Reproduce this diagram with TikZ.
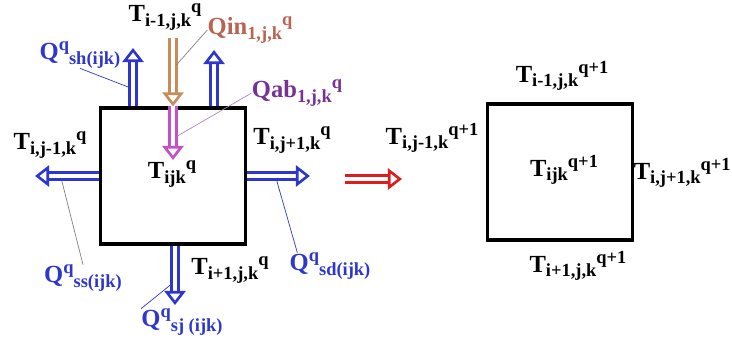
\documentclass[tikz,border=0pt]{standalone}
\usepackage{fontspec}
\setmainfont{Liberation Serif}
\usetikzlibrary{arrows.meta, positioning, calc}
\definecolor{fluxblue}{RGB}{45,55,205}
\definecolor{qinbrown}{RGB}{185,100,80}
\definecolor{qinorange}{RGB}{200,140,90}
\definecolor{qabpurple}{RGB}{120,50,150}
\definecolor{qabmagenta}{RGB}{195,80,200}
\definecolor{stepred}{RGB}{220,30,30}
\newcommand{\lowtx}[1]{\raisebox{-2.5pt}{\fontsize{10.5}{12}\selectfont #1}}
\newcommand{\hightx}[1]{\raisebox{5pt}{\fontsize{10.5}{12}\selectfont #1}}
\newcommand{\Tl}[2]{T\lowtx{#1}\hightx{#2}}
\newcommand{\Ql}[1]{Q\hightx{q}\lowtx{#1}}

\begin{document}
\begin{tikzpicture}[
    x=0.02cm, y=-0.02cm,
    cell/.style={draw, line width=1.8pt, minimum width=2.9cm, minimum height=2.72cm, inner sep=0pt},
    lbl/.style={font=\fontsize{14}{16}\selectfont\bfseries, inner sep=0pt},
    qlbl/.style={lbl, text=fluxblue},
    flux/.style={line width=1.5pt, double=white, double distance=2.8pt, -{Triangle[open, length=8pt, width=12pt]}},
    lead/.style={line width=0.4pt, shorten >=3pt},
  ]
  \useasboundingbox (0,0) rectangle (732,338);
  % cells
  \node[cell] (old) at (173,176) {};
  \node[cell] (new) at (560,172) {};
  \node[lbl] (tijk) at (172,174) {\Tl{ijk}{q}};
  \node[lbl] (nijk) at (564,170) {\Tl{ijk}{q+1}};
  % flux arrows
  \coordinate (up1) at (133,48);
  \coordinate (up2) at (214,50);
  \coordinate (inflow) at (173,38);
  \coordinate (absorb) at (173,160);
  \coordinate (west) at (35,176);
  \coordinate (east) at (310,176);
  \coordinate (south) at (175,305);
  \draw[flux, fluxblue] (old.north -| up1) -- coordinate[pos=0.3] (shpt) (up1);
  \draw[flux, fluxblue] (old.north -| up2) -- (up2);
  \draw[flux, qinorange] (inflow) -- coordinate[pos=0.45] (inpt) (old.north -| inflow);
  \draw[flux, qabmagenta] (old.north -| inflow) -- coordinate[pos=0.6] (abpt) (absorb);
  \draw[flux, fluxblue] (old.west) -- coordinate[pos=0.6] (sspt) (west);
  \draw[flux, fluxblue] (old.east) -- coordinate[pos=0.45] (sdpt) (east);
  \draw[flux, fluxblue] (old.south -| south) -- coordinate[pos=0.6] (sjpt) (south);
  % step arrow
  \coordinate (stepa) at (345,179);
  \coordinate (stepb) at (402,179);
  \draw[flux, stepred] (stepa) -- (stepb);
  % labels, time q
  \node[lbl] (tnorth) at (165,17) {\Tl{i-1,j,k}{q}};
  \node[lbl] (twest) at (50,145) {\Tl{i,j-1,k}{q}};
  \node[lbl] (teast) at (292,140) {\Tl{i,j+1,k}{q}};
  \node[lbl] (tsouth) at (230,270) {\Tl{i+1,j,k}{q}};
  \node[lbl, text=qinbrown] (qin) at (250,30) {Qin\lowtx{1,j,k}\hightx{q}};
  \node[lbl, text=qabpurple] (qab) at (297,93) {Qab\lowtx{1,j,k}\hightx{q}};
  \node[qlbl] (qsh) at (80,55) {\Ql{sh(ijk)}};
  \node[qlbl] (qss) at (83,278) {\Ql{ss(ijk)}};
  \node[qlbl] (qsd) at (330,266) {\Ql{sd(ijk)}};
  \node[qlbl] (qsj) at (182,322) {\Ql{sj (ijk)}};
  % labels, time q+1
  \node[lbl] (nnorth) at (562,76) {\Tl{i-1,j,k}{q+1}};
  \node[lbl] (nwest) at (432,138) {\Tl{i,j-1,k}{q+1}};
  \node[lbl, anchor=east] (neast) at (731,173) {\Tl{i,j+1,k}{q+1}};
  \node[lbl] (nsouth) at (578,266) {\Tl{i+1,j,k}{q+1}};
  % leaders
  \draw[lead, fluxblue] (qsh.south) -- (shpt);
  \draw[lead, gray] (qin.west) -- (inpt);
  \draw[lead, qabpurple!60] (qab.west) -- (abpt);
  \draw[lead, gray] (qss.north) -- (sspt);
  \draw[lead, fluxblue] ($(qsd.north west)+(8,0)$) -- (sdpt);
  \draw[lead, fluxblue] (qsj.north west) -- (sjpt);
\end{tikzpicture}
\end{document}
